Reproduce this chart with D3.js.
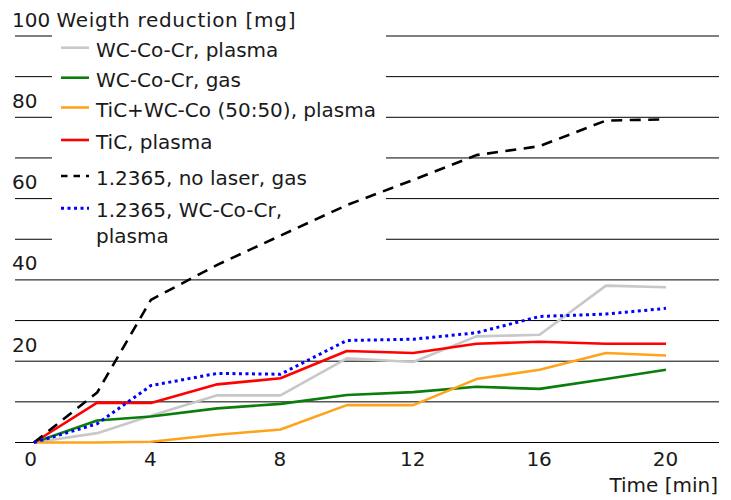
<!DOCTYPE html>
<html>
<head>
<meta charset="utf-8">
<script src="https://cdn.jsdelivr.net/npm/d3@7"></script>
<style>
  html, body { margin: 0; padding: 0; background: #fff; }
  svg { display: block; }
  text { font-family: "DejaVu Sans", sans-serif; fill: #1a1a1a; }
</style>
</head>
<body>
<svg id="chart" width="731" height="500"></svg>
<script>
// ---- data ----
const nominalTimes = [0, 2, 4, 6, 8, 10, 12, 14, 16, 18, 20];       // category labels (min)
const measuredTimes = [0, 2, 3.7, 5.8, 7.8, 9.9, 12, 14, 16, 18.1, 20]; // position of samples as read
const xTickLabels = ["0", "4", "8", "12", "16", "20"];
const yTickLabels = ["20", "40", "60", "80", "100"];

const wcCoCrPlasma   = [0, 2.3, 6.6, 11.6, 11.6, 20.7, 19.8, 26.1, 26.5, 38.6, 38.2];
const wcCoCrGas      = [0, 5.4, 6.4, 8.4, 9.5, 11.7, 12.4, 13.7, 13.2, 15.6, 17.9];
const ticWcCoPlasma  = [0, 0, 0.2, 1.9, 3.2, 9.2, 9.2, 15.6, 17.9, 22.0, 21.4];
const ticPlasma      = [0, 9.8, 9.7, 14.3, 15.8, 22.5, 22.0, 24.3, 24.8, 24.3, 24.3];
const noLaserGas     = [0, 12.3, 35.1, 43.7, 50.9, 58.4, 64.6, 70.7, 72.9, 79.2, 79.5];
const wcCoCrPlasma2  = [0, 4.6, 14.0, 17.0, 16.8, 25.1, 25.4, 27.0, 31.0, 31.6, 33.0];

const seriesNames = ["WC-Co-Cr, plasma", "WC-Co-Cr, gas", "TiC+WC-Co (50:50), plasma",
                     "TiC, plasma", "1.2365, no laser, gas", "1.2365, WC-Co-Cr,\nplasma"];
const seriesValues = [wcCoCrPlasma, wcCoCrGas, ticWcCoPlasma, ticPlasma, noLaserGas, wcCoCrPlasma2];
const seriesColors = ["#c8c8c8", "#0a7d0a", "#ffa41a", "#ff0000", "#000000", "#0000ff"];
const seriesDash   = [null, null, null, null, "11,7.5", "3,3.5"];

// ---- layout ----
const FONT = 20;
const svg = d3.select("#chart");
const x = d3.scaleLinear().domain([0, 20]).range([34, 666]);
const y = d3.scaleLinear().domain([0, 100]).range([442.5, 36]);
const gridLeft = 15, gridRight = 719;

// gridlines
svg.append("g").selectAll("line")
  .data(d3.range(10, 101, 10))
  .join("line")
  .attr("x1", gridLeft).attr("x2", gridRight)
  .attr("y1", d => y(d)).attr("y2", d => y(d))
  .attr("stroke", "#000").attr("stroke-width", 1);

// x axis baseline
svg.append("line")
  .attr("x1", gridLeft).attr("x2", gridRight)
  .attr("y1", y(0)).attr("y2", y(0))
  .attr("stroke", "#000").attr("stroke-width", 1.2);

// legend background
svg.append("rect")
  .attr("x", 52).attr("y", 30).attr("width", 334).attr("height", 220)
  .attr("fill", "#fff");

// y labels
svg.append("g").selectAll("text")
  .data(yTickLabels)
  .join("text")
  .attr("x", 12)
  .attr("y", d => y(+d) - 9.5)
  .attr("font-size", FONT)
  .text(d => d);

// x axis tick labels
const xAxis = d3.axisBottom(x)
  .tickValues(nominalTimes.map((t, i) => i).filter(i => nominalTimes[i] % 4 === 0).map(i => measuredTimes[i]))
  .tickFormat((d, i) => xTickLabels[i])
  .tickSize(0).tickPadding(0);
const gx = svg.append("g").attr("transform", `translate(0,${y(0)})`).call(xAxis);
gx.select(".domain").remove();
gx.selectAll("text")
  .attr("font-size", FONT)
  .attr("font-family", "DejaVu Sans, sans-serif")
  .attr("fill", "#1a1a1a")
  .attr("dy", null)
  .attr("dx", (d, i) => i === 0 ? -4 : -1)
  .attr("y", 23.5);

svg.append("text")
  .attr("x", 718).attr("y", 492)
  .attr("text-anchor", "end")
  .attr("font-size", FONT)
  .text("Time [min]");

// series lines
const line = d3.line()
  .x((d, i) => x(measuredTimes[i]))
  .y(d => y(d));

svg.append("g").selectAll("path")
  .data(seriesValues)
  .join("path")
  .attr("d", d => line(d))
  .attr("fill", "none")
  .attr("stroke", (d, i) => seriesColors[i])
  .attr("stroke-width", (d, i) => i === 5 ? 3 : 2.6)
  .attr("stroke-dasharray", (d, i) => seriesDash[i])
  .attr("stroke-linejoin", "round");

// y-axis title (next to the "100" tick label)
svg.append("text")
  .attr("x", 56.5).attr("y", y(100) - 9.5)
  .attr("font-size", FONT)
  .attr("letter-spacing", 0.7)
  .text("Weigth reduction [mg]");

// legend
const legendBaselines = [56.7, 86.7, 116.5, 149, 185, 217.3];
const legend = svg.append("g");
seriesNames.forEach((name, i) => {
  const by = legendBaselines[i];
  legend.append("line")
    .attr("x1", 61).attr("x2", 89)
    .attr("y1", by - 9).attr("y2", by - 9)
    .attr("stroke", seriesColors[i])
    .attr("stroke-width", i === 5 ? 3 : 2.6)
    .attr("stroke-dasharray", i === 4 ? "6.5,6" : seriesDash[i]);
  const t = legend.append("text")
    .attr("x", 96).attr("y", by)
    .attr("font-size", FONT);
  name.split("\n").forEach((part, k) => {
    t.append("tspan").attr("x", 96).attr("dy", k === 0 ? 0 : 26).text(part);
  });
});
</script>
</body>
</html>
